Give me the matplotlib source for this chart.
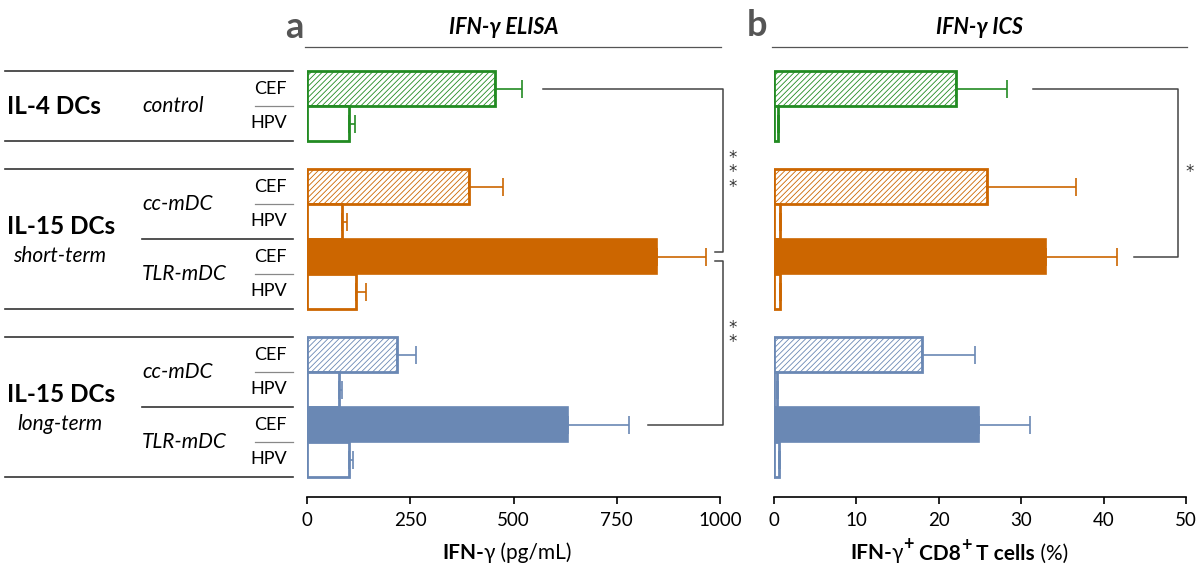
"""IFN-gamma ELISA / ICS horizontal bar panels."""
import numpy as np
import matplotlib
matplotlib.use("Agg")
import matplotlib.pyplot as plt

FONT = ["Lato", "DejaVu Sans"]
plt.rcParams["font.family"] = FONT
plt.rcParams["hatch.linewidth"] = 0.6

# ---- data (10 rows, top to bottom) ----
stim = ["CEF", "HPV"] * 5
groups = ["IL-4 DCs", "IL-15 DCs", "IL-15 DCs"]
group_sub = ["", "short-term", "long-term"]
dc_types = [["control"], ["cc-mDC", "TLR-mDC"], ["cc-mDC", "TLR-mDC"]]
row_group = [0, 0, 1, 1, 1, 1, 2, 2, 2, 2]
row_style = ["hatch", "open", "hatch", "open", "solid", "open", "hatch", "open", "solid", "open"]

elisa_mean = [455, 102, 392, 85, 847, 119, 218, 78, 633, 102]
elisa_upper = [520, 116, 475, 97, 966, 143, 264, 84, 780, 112]
ics_mean = [22.1, 0.5, 25.8, 0.7, 33.0, 0.7, 18.0, 0.4, 24.9, 0.6]
ics_upper = [28.3, 0.6, 36.7, 0.9, 41.6, 0.9, 24.4, 0.5, 31.1, 0.7]

group_colors = ["#228b22", "#cc6600", "#6a88b4"]

# ---- layout ----
W, H = 1200, 580
GAP = 0.8  # gap between groups, in row units
ypos = np.array([i + 0.5 + GAP * g for i, g in enumerate(row_group)])

fig = plt.figure(figsize=(12, 5.8), dpi=100)


def fx(px):
    return px / W


def fy(py):
    return 1 - py / H


ax_top, ax_bot = 60, 497
row_px = 35.0
y_top = -(71 - ax_top) / row_px
y_bot = y_top + (ax_bot - ax_top) / row_px


def make_panel(x0, x1):
    ax = fig.add_axes([fx(x0), fy(ax_bot), fx(x1 - x0), (ax_bot - ax_top) / H])
    ax.set_ylim(y_bot, y_top)
    for s in ["left", "right", "top"]:
        ax.spines[s].set_visible(False)
    ax.spines["bottom"].set_linewidth(1.2)
    ax.set_yticks([])
    ax.tick_params(axis="x", length=5, width=1.2, labelsize=13.5, pad=6)
    return ax


def draw_bars(ax, mean, upper):
    for i in range(len(mean)):
        c = group_colors[row_group[i]]
        st = row_style[i]
        if st == "solid":
            ax.barh(ypos[i], mean[i], height=1, color=c, edgecolor=c, lw=1.2)
        elif st == "hatch":
            ax.barh(ypos[i], mean[i], height=1, facecolor="white", edgecolor=c,
                    hatch="//////", lw=2)
        else:
            ax.barh(ypos[i], mean[i], height=1, facecolor="white", edgecolor=c, lw=2)
        ax.errorbar(mean[i], ypos[i], xerr=[[0], [upper[i] - mean[i]]], fmt="none",
                    ecolor=c, elinewidth=1.2, capsize=6.5, capthick=1.2)


def bracket(ax, xs, ys, color="#444444"):
    ax.plot(xs, ys, color=color, lw=1.1, clip_on=False)


# panel a
axa = make_panel(307, 720)
draw_bars(axa, elisa_mean, elisa_upper)
axa.set_xlim(0, 1000)
axa.set_xticks([0, 250, 500, 750, 1000])

yc0 = ypos[0]
yt = ypos[4]
yl = ypos[8]
bracket(axa, [571, 1007, 1007, 988], [yc0, yc0, yt - 0.12, yt - 0.12])
bracket(axa, [988, 1007, 1007, 826], [yt + 0.12, yt + 0.12, yl, yl])
axa.text(1031, (yc0 + yt) / 2, "*\n*\n*", ha="center", va="center", fontsize=12,
         linespacing=0.75, family="DejaVu Sans", color="#333333", clip_on=False)
axa.text(1031, (yt + yl) / 2 - 0.15, "*\n*", ha="center", va="center", fontsize=12,
         linespacing=0.75, family="DejaVu Sans", color="#333333", clip_on=False)

# panel b
axb = make_panel(774, 1186)
draw_bars(axb, ics_mean, ics_upper)
axb.set_xlim(0, 50)
axb.set_xticks([0, 10, 20, 30, 40, 50])
bracket(axb, [31.4, 49.0, 49.0, 43.7], [yc0, yc0, yt, yt])
axb.text(50.5, (yc0 + yt) / 2, "*", ha="center", va="center", fontsize=12,
         family="DejaVu Sans", color="#333333", clip_on=False)

# x labels built from pieces (bold / normal / superscript)
t = fig.text(fx(442), fy(559), "IFN-", ha="left", va="baseline", fontsize=15,
             fontweight="bold")
t = axa.annotate("γ", xy=(1, 0), xycoords=t, va="bottom", fontsize=15)
axa.annotate(" (pg/mL)", xy=(1, 0), xycoords=t, va="bottom", fontsize=15)

t = fig.text(fx(850), fy(559), "IFN-", ha="left", va="baseline", fontsize=15,
             fontweight="bold")
t = axb.annotate("γ", xy=(1, 0), xycoords=t, va="bottom", fontsize=15)
t = axb.annotate("+", xy=(1, 0.5), xycoords=t, va="bottom", fontsize=13,
                 fontweight="bold")
t = axb.annotate(" CD8", xy=(1, -0.62), xycoords=t, va="bottom", fontsize=15,
                 fontweight="bold")
t = axb.annotate("+", xy=(1, 0.5), xycoords=t, va="bottom", fontsize=13,
                 fontweight="bold")
t = axb.annotate(" T cells", xy=(1, -0.62), xycoords=t, va="bottom", fontsize=15,
                 fontweight="bold")
axb.annotate(" (%)", xy=(1, 0), xycoords=t, va="bottom", fontsize=15)

# titles, panel letters, title rules
fig.text(fx(294), fy(27), "a", ha="center", va="center", fontsize=26,
         fontweight="bold", color="#555555")
fig.text(fx(757), fy(25), "b", ha="center", va="center", fontsize=26,
         fontweight="bold", color="#555555")
fig.text(fx(504), fy(28), "IFN-γ ELISA", ha="center", va="center", fontsize=15.5,
         fontweight="bold", fontstyle="italic")
fig.text(fx(980), fy(28), "IFN-γ ICS", ha="center", va="center", fontsize=15.5,
         fontweight="bold", fontstyle="italic")
fig.add_artist(plt.Line2D([fx(305), fx(721)], [fy(47), fy(47)], color="#555555", lw=0.9))
fig.add_artist(plt.Line2D([fx(772), fx(1187)], [fy(47), fy(47)], color="#555555", lw=0.9))

# left label area, sharing the row positions
axl = fig.add_axes([0, fy(ax_bot), fx(300), (ax_bot - ax_top) / H], sharey=axa)
axl.set_xlim(0, 300)
axl.axis("off")
dark = "#333333"
for g in range(3):
    rows = [i for i in range(10) if row_group[i] == g]
    top = ypos[rows[0]] - 0.5
    bot = ypos[rows[-1]] + 0.5
    mid = (top + bot) / 2
    axl.plot([5, 293], [top, top], color=dark, lw=1.2)
    axl.plot([5, 293], [bot, bot], color=dark, lw=1.2)
    if group_sub[g]:
        axl.text(7, mid - 0.37, groups[g], ha="left", va="center", fontsize=17.5,
                 fontweight="bold")
        axl.text(60, mid + 0.5, group_sub[g], ha="center", va="center", fontsize=15,
                 fontstyle="italic")
    else:
        axl.text(7, mid, groups[g], ha="left", va="center", fontsize=17.5,
                 fontweight="bold")
    for k, name in enumerate(dc_types[g]):
        pair = rows[2 * k:2 * k + 2]
        pmid = (ypos[pair[0]] + ypos[pair[1]]) / 2
        axl.text(142, pmid, name, ha="left", va="center", fontsize=15,
                 fontstyle="italic")
        if k > 0:
            yb = ypos[pair[0]] - 0.5
            axl.plot([142, 293], [yb, yb], color=dark, lw=1.2)
        sep = ypos[pair[0]] + 0.5
        axl.plot([255, 293], [sep, sep], color="#888888", lw=0.9)
for i in range(10):
    axl.text(287, ypos[i], stim[i], ha="right", va="center", fontsize=13)

fig.savefig("out.png", dpi=100)
